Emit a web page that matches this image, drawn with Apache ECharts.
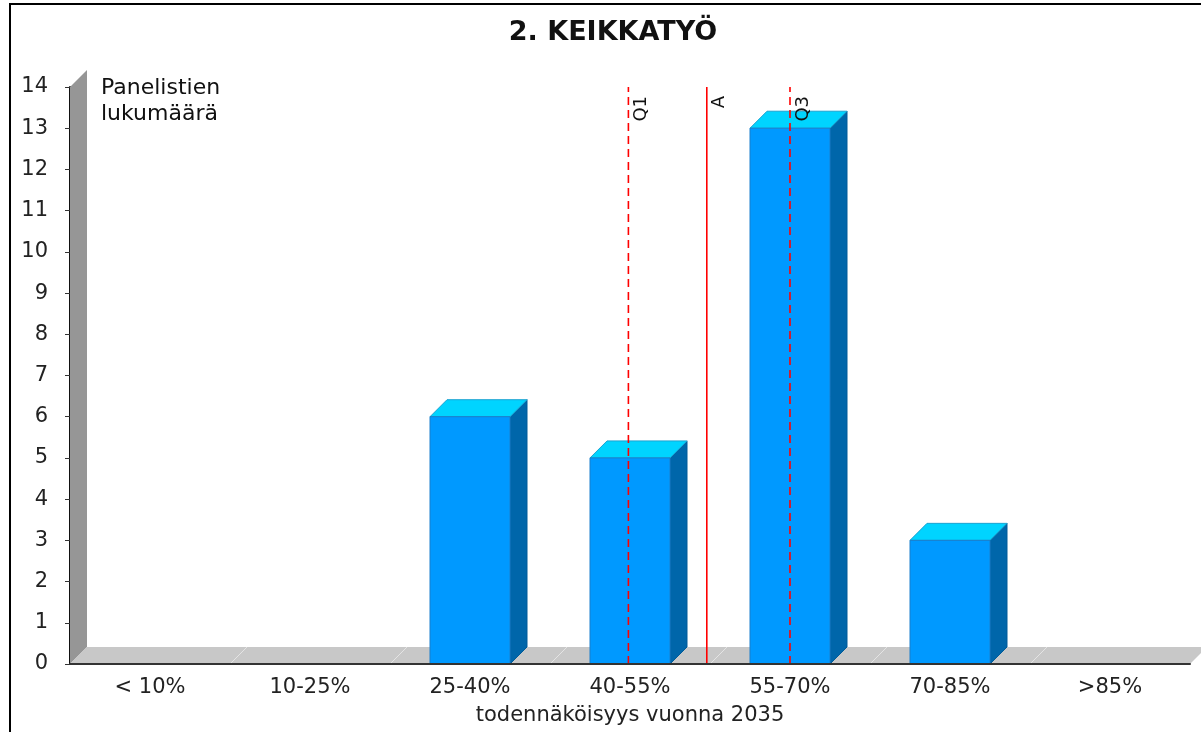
<!DOCTYPE html>
<html>
<head>
<meta charset="utf-8">
<script src="https://cdn.jsdelivr.net/npm/echarts@6/dist/echarts.min.js"></script>
<style>
  html, body { margin: 0; padding: 0; background: #fff; }
  #chart { width: 1201px; height: 732px; }
</style>
</head>
<body>
<div id="chart"></div>
<script>
// data
var categories = ['< 10%', '10-25%', '25-40%', '40-55%', '55-70%', '70-85%', '>85%'];
var counts = [0, 0, 6, 5, 13, 3, 0];
var yMin = 0, yMax = 14, yStep = 1;
// quartile / mean markers, position in category units from the left edge
var markerNames = ['Q1', 'A', 'Q3'];
var markerPos = [3.49, 3.98, 4.5];

var FONT = 'DejaVu Sans, Verdana, sans-serif';
var D = 17; // 3d depth in px

var chart = echarts.init(document.getElementById('chart'));

function renderBackdrop(params, api) {
  var cs = params.coordSys;
  var x0 = cs.x, x1 = cs.x + cs.width, yt = cs.y, yb = cs.y + cs.height;
  var kids = [
    // wall
    {type: 'polygon', shape: {points: [[x0, yb], [x0, yt], [x0 + D, yt - D], [x0 + D, yb - D]]},
      style: {fill: '#969696'}},
    // floor
    {type: 'polygon', shape: {points: [[x0, yb], [x0 + D, yb - D], [x1 + D, yb - D], [x1, yb]]},
      style: {fill: '#c8c8c8'}}
  ];
  var catW = api.size([1, 0])[0];
  for (var k = 1; k < categories.length; k++) {
    var bx = api.coord([k, 0])[0] - catW / 2;
    kids.push({type: 'line', shape: {x1: bx, y1: yb, x2: bx + D, y2: yb - D},
      style: {stroke: '#e4e4e4', lineWidth: 1}});
  }
  return {type: 'group', children: kids};
}

function renderBar(params, api) {
  var v = api.value(1);
  if (!v) return;
  var top = api.coord([api.value(0), v]);
  var base = api.coord([api.value(0), 0]);
  var w = api.size([1, 0])[0] * 0.5;
  var x0 = top[0] - w / 2, x1 = top[0] + w / 2, yt = top[1], yb = base[1];
  return {
    type: 'group',
    children: [
      {type: 'polygon', shape: {points: [[x1, yb], [x1, yt], [x1 + D, yt - D], [x1 + D, yb - D]]},
        style: {fill: '#0066aa', stroke: '#005b99', lineWidth: 1}},
      {type: 'polygon', shape: {points: [[x0, yt], [x0 + D, yt - D], [x1 + D, yt - D], [x1, yt]]},
        style: {fill: '#00d4ff', stroke: '#1aa3d1', lineWidth: 1}},
      {type: 'rect', shape: {x: x0, y: yt, width: w, height: yb - yt},
        style: {fill: '#0099ff', stroke: '#1a7fcc', lineWidth: 1}}
    ]
  };
}

function renderMarker(params, api) {
  var p = api.value(0);
  var name = markerNames[api.value(1)];
  var bot = api.coord([p, yMin]);
  var top = api.coord([p, yMax]);
  return {
    type: 'group',
    children: [
      {type: 'line', shape: {x1: bot[0], y1: bot[1], x2: top[0], y2: top[1]},
        style: {stroke: '#ff0000', lineWidth: 1.6, lineDash: name === 'A' ? null : [8, 5]}},
      {type: 'text', x: top[0] + 4, y: top[1] + 9, rotation: Math.PI / 2,
        style: {text: name, fill: '#111', font: '18px ' + FONT, align: 'right', verticalAlign: 'top'}}
    ]
  };
}

chart.setOption({
  animation: false,
  backgroundColor: '#fff',
  title: [{
    text: '2. KEIKKATYÖ',
    left: 608,
    textAlign: 'center',
    top: 14,
    textStyle: {fontFamily: FONT, fontSize: 27, fontWeight: 'bold', color: '#111'}
  }, {
    text: 'Panelistien\nlukumäärä',
    left: 96,
    top: 70,
    textStyle: {fontFamily: FONT, fontSize: 22, fontWeight: 'normal', color: '#111', lineHeight: 26}
  }],
  graphic: [{
    type: 'rect', silent: true, z: 100,
    shape: {x: 10, y: 4, width: 1400, height: 1000},
    style: {fill: 'transparent', stroke: '#000', lineWidth: 2}
  }],
  grid: {left: 70, right: 11, top: 87, bottom: 68},
  xAxis: [{
    type: 'category',
    data: categories,
    z: 10,
    axisLine: {lineStyle: {color: '#333', width: 2}},
    axisTick: {length: 8, lineStyle: {color: '#bbb'}},
    axisLabel: {fontFamily: FONT, fontSize: 21, color: '#222', margin: 13},
    name: 'todennäköisyys vuonna 2035',
    nameLocation: 'middle',
    nameGap: 41,
    nameTextStyle: {fontFamily: FONT, fontSize: 21, color: '#222'},
    splitLine: {show: false}
  }, {
    type: 'value', min: 0, max: categories.length, show: false
  }],
  yAxis: {
    type: 'value',
    min: yMin, max: yMax, interval: yStep,
    offset: 8,
    axisLine: {show: true, lineStyle: {color: '#111', width: 2}},
    axisTick: {show: true, length: 5, lineStyle: {color: '#333'}},
    axisLabel: {fontFamily: FONT, fontSize: 21, color: '#222', margin: 14},
    splitLine: {show: false}
  },
  series: [{
    type: 'custom', name: 'backdrop', xAxisIndex: 0, yAxisIndex: 0, silent: true, z: 1,
    renderItem: renderBackdrop, data: [[0, 0]]
  }, {
    type: 'custom', name: 'Panelistien lukumäärä', xAxisIndex: 0, yAxisIndex: 0, z: 2,
    renderItem: renderBar,
    data: categories.map(function (c, i) { return [i, counts[i]]; })
  }, {
    type: 'custom', name: 'markers', xAxisIndex: 1, yAxisIndex: 0, silent: true, z: 3,
    renderItem: renderMarker,
    data: markerPos.map(function (p, i) { return [p, i]; })
  }]
});
</script>
</body>
</html>
